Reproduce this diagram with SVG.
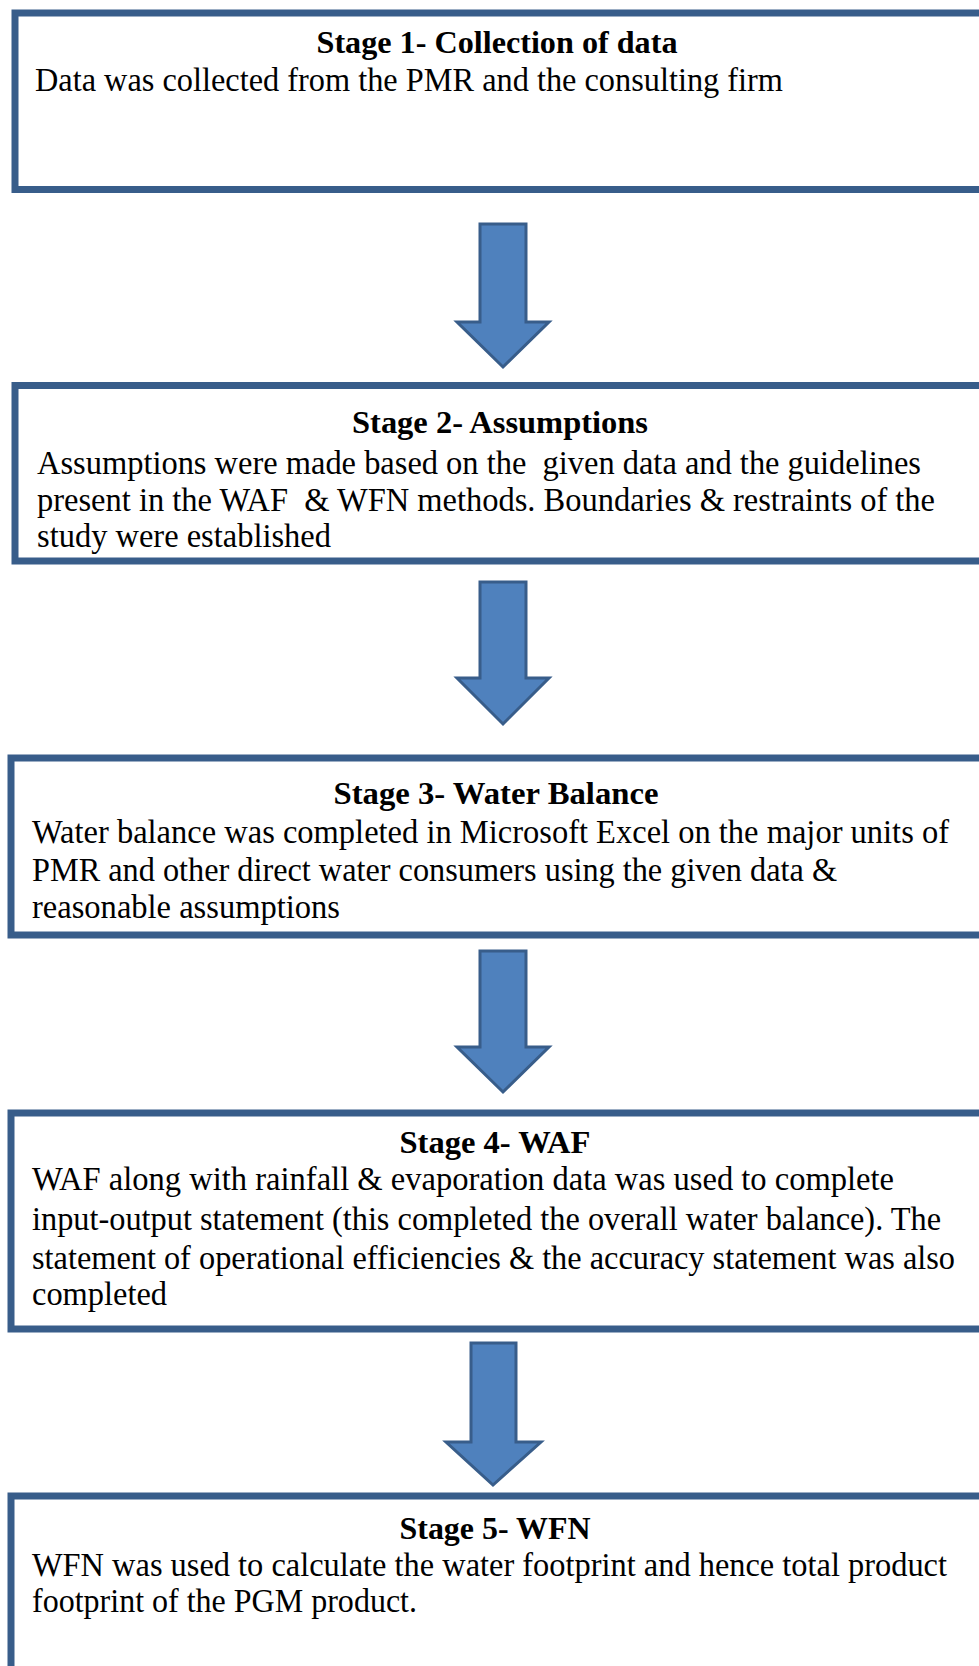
<svg xmlns="http://www.w3.org/2000/svg" width="979" height="1666" viewBox="0 0 979 1666">
  <style>
    .box { fill: #ffffff; stroke: #385D8A; stroke-width: 7; }
    .arrow { fill: #4F81BD; stroke: #385D8A; stroke-width: 3; stroke-linejoin: miter; }
    .head { font-family: "Liberation Serif", "Times New Roman", Tinos, serif; font-weight: bold; font-size: 31px; fill: #000; text-anchor: middle; white-space: pre; }
    .body { font-family: "Liberation Serif", "Times New Roman", Tinos, serif; font-size: 33px; fill: #000; white-space: pre; }
  </style>
  <rect width="979" height="1666" fill="#ffffff"/>

  <g id="connectors">
    <path class="arrow" d="M480,224 H526 V322 H549 L503,367 L457,322 H480 Z"/>
    <path class="arrow" d="M480,582 H526 V678 H549 L503,724 L457,678 H480 Z"/>
    <path class="arrow" d="M480,951 H526 V1047 H549 L503,1092 L457,1047 H480 Z"/>
    <path class="arrow" d="M471,1343 H516 V1442 H541 L493,1485 L446,1442 H471 Z"/>
  </g>

  <g id="stage1">
    <rect class="box" x="15" y="13" width="1000" height="176.5"/>
    <text class="head" x="497" y="53" textLength="361" lengthAdjust="spacingAndGlyphs">Stage 1- Collection of data</text>
    <text class="body" x="35" y="91" textLength="748" lengthAdjust="spacingAndGlyphs">Data was collected from the PMR and the consulting firm</text>
  </g>

  <g id="stage2">
    <rect class="box" x="15" y="385.5" width="1000" height="175.5"/>
    <text class="head" x="500" y="433" textLength="296" lengthAdjust="spacingAndGlyphs">Stage 2- Assumptions</text>
    <text class="body" x="37" y="474" textLength="884" lengthAdjust="spacingAndGlyphs" xml:space="preserve">Assumptions were made based on the  given data and the guidelines</text>
    <text class="body" x="37" y="511" textLength="898" lengthAdjust="spacingAndGlyphs" xml:space="preserve">present in the WAF  &amp; WFN methods. Boundaries &amp; restraints of the</text>
    <text class="body" x="37" y="547" textLength="294" lengthAdjust="spacingAndGlyphs">study were established</text>
  </g>

  <g id="stage3">
    <rect class="box" x="11" y="758" width="1000" height="177"/>
    <text class="head" x="496" y="804" textLength="325" lengthAdjust="spacingAndGlyphs">Stage 3- Water Balance</text>
    <text class="body" x="32" y="843" textLength="917" lengthAdjust="spacingAndGlyphs">Water balance was completed in Microsoft Excel on the major units of</text>
    <text class="body" x="32" y="881" textLength="805" lengthAdjust="spacingAndGlyphs">PMR and other direct water consumers using the given data &amp;</text>
    <text class="body" x="32" y="918" textLength="308" lengthAdjust="spacingAndGlyphs">reasonable assumptions</text>
  </g>

  <g id="stage4">
    <rect class="box" x="11" y="1113" width="1000" height="216"/>
    <text class="head" x="495" y="1153" textLength="191" lengthAdjust="spacingAndGlyphs">Stage 4- WAF</text>
    <text class="body" x="32" y="1190" textLength="862" lengthAdjust="spacingAndGlyphs">WAF along with rainfall &amp; evaporation data was used to complete</text>
    <text class="body" x="32" y="1230" textLength="909" lengthAdjust="spacingAndGlyphs">input-output statement (this completed the overall water balance). The</text>
    <text class="body" x="32" y="1269" textLength="923" lengthAdjust="spacingAndGlyphs">statement of operational efficiencies &amp; the accuracy statement was also</text>
    <text class="body" x="32" y="1305" textLength="135" lengthAdjust="spacingAndGlyphs">completed</text>
  </g>

  <g id="stage5">
    <rect class="box" x="11" y="1496" width="1000" height="300"/>
    <text class="head" x="495" y="1539" textLength="191" lengthAdjust="spacingAndGlyphs">Stage 5- WFN</text>
    <text class="body" x="32" y="1576" textLength="915" lengthAdjust="spacingAndGlyphs">WFN was used to calculate the water footprint and hence total product</text>
    <text class="body" x="32" y="1612" textLength="385" lengthAdjust="spacingAndGlyphs">footprint of the PGM product.</text>
  </g>
</svg>
